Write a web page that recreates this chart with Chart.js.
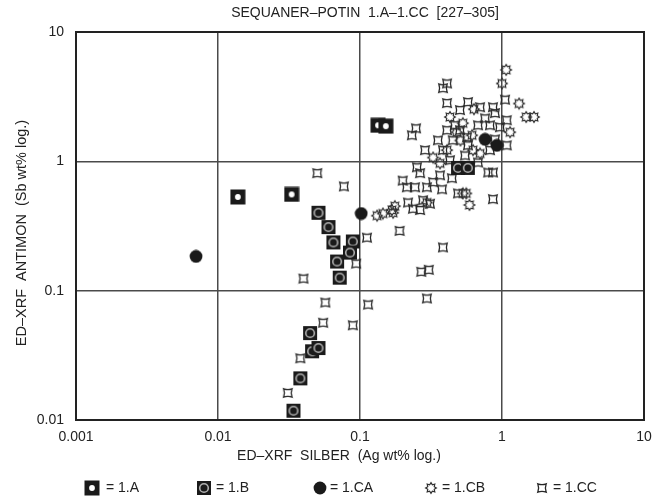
<!DOCTYPE html>
<html>
<head>
<meta charset="utf-8">
<script src="https://cdn.jsdelivr.net/npm/chart.js@4/dist/chart.umd.min.js"></script>
<style>
  html, body { margin: 0; padding: 0; background: #fff; }
  #wrap { width: 654px; height: 499px; }
</style>
</head>
<body>
<div id="wrap"><canvas id="c" width="654" height="499"></canvas></div>
<script>
// Groups and axis ticks
const categories = ['1.A', '1.B', '1.CA', '1.CB', '1.CC'];
const xTickValues = [0.001, 0.01, 0.1, 1, 10];
const xTickLabels = ['0.001', '0.01', '0.1', '1', '10'];
const yTickValues = [0.01, 0.1, 1, 10];
const yTickLabels = ['0.01', '0.1', '1', '10'];

// [Ag wt%, Sb wt%] per sample
const series1A = [[0.0138, 0.53], [0.033, 0.555], [0.134, 1.9], [0.152, 1.87]];
const series1B = [[0.051, 0.40], [0.060, 0.31], [0.065, 0.236], [0.089, 0.24], [0.085, 0.197],
  [0.069, 0.168], [0.072, 0.126], [0.0445, 0.047], [0.046, 0.034], [0.051, 0.036],
  [0.038, 0.021], [0.034, 0.0118], [0.49, 0.89], [0.575, 0.89]];
const series1CA = [[0.0070, 0.184], [0.102, 0.395], [0.76, 1.48], [0.92, 1.33]];
const series1CB = [[1.07, 5.1], [1.0, 4.0], [1.32, 2.8], [1.48, 2.2], [1.68, 2.2], [1.14, 1.68],
  [0.43, 2.2], [0.635, 2.53], [0.327, 1.07], [0.56, 0.565], [0.59, 0.46], [0.53, 0.565],
  [0.171, 0.40], [0.296, 0.48], [0.132, 0.38], [0.145, 0.395], [0.168, 0.42], [0.176, 0.45],
  [0.48, 1.68], [0.51, 1.45], [0.41, 1.22], [0.625, 1.22], [0.70, 1.15], [0.53, 1.97],
  [0.615, 1.59], [0.366, 0.965]];
const series1CC = [[0.050, 0.81], [0.077, 0.64], [0.112, 0.257], [0.094, 0.162], [0.040, 0.124],
  [0.057, 0.081], [0.055, 0.0565], [0.089, 0.054], [0.114, 0.078], [0.038, 0.030],
  [0.031, 0.0162], [0.296, 0.087], [0.384, 0.216], [0.27, 0.14], [0.305, 0.145], [0.19, 0.29],
  [0.384, 3.68], [0.41, 4.0], [0.232, 1.59], [0.248, 1.80], [0.41, 2.82], [0.506, 2.49],
  [0.576, 2.87], [0.70, 2.62], [0.864, 2.62], [0.893, 2.36], [1.05, 3.0], [1.08, 1.33],
  [1.08, 2.08], [0.41, 1.74], [0.506, 1.74], [0.45, 1.455], [0.567, 1.535], [0.384, 1.22],
  [0.823, 1.9], [0.968, 1.835], [0.80, 0.82], [0.864, 0.82], [0.864, 0.51], [0.49, 0.565],
  [0.252, 0.90], [0.265, 0.81], [0.20, 0.71], [0.214, 0.63], [0.244, 0.63], [0.296, 0.63],
  [0.327, 0.69], [0.378, 0.607], [0.218, 0.48], [0.236, 0.43], [0.265, 0.42], [0.278, 0.50],
  [0.311, 0.47], [0.354, 1.455], [0.467, 1.9], [0.678, 1.9], [0.76, 2.15], [0.576, 1.33],
  [0.43, 1.02], [0.678, 0.98], [0.893, 1.48], [0.287, 1.22], [0.366, 0.78], [0.444, 0.74],
  [0.823, 1.22], [0.549, 1.11]];

const seriesData = [series1A, series1B, series1CA, series1CB, series1CC];

// Marker glyphs drawn on small canvases, used as point styles
function makeMarker(size, draw) {
  const c = document.createElement('canvas');
  c.width = size; c.height = size;
  const g = c.getContext('2d');
  g.translate(size / 2, size / 2);
  draw(g);
  return c;
}
const INK = '#1a1a1a';
const markers = [
  makeMarker(16, g => {            // filled square, white dot
    g.fillStyle = INK; g.fillRect(-7.5, -7.5, 15, 15);
    g.fillStyle = '#fff'; g.beginPath(); g.arc(0, 0, 2.9, 0, Math.PI * 2); g.fill();
  }),
  makeMarker(16, g => {            // filled square, grey ring
    g.fillStyle = INK; g.fillRect(-7, -7, 14, 14);
    g.strokeStyle = '#b0b0b0'; g.lineWidth = 1.6;
    g.beginPath(); g.arc(0, 0, 4.3, 0, Math.PI * 2); g.stroke();
  }),
  makeMarker(14, g => {            // filled disc
    g.fillStyle = INK; g.beginPath(); g.arc(0, 0, 6.4, 0, Math.PI * 2); g.fill();
  }),
  makeMarker(14, g => {            // open eight-point star
    g.strokeStyle = '#303030'; g.lineWidth = 1.2;
    g.beginPath();
    for (let i = 0; i < 16; i++) {
      const r = i % 2 === 0 ? 5.4 : 3.5;
      const a = i * Math.PI / 8 - Math.PI / 2;
      const px = r * Math.cos(a), py = r * Math.sin(a);
      i === 0 ? g.moveTo(px, py) : g.lineTo(px, py);
    }
    g.closePath(); g.stroke();
  }),
  makeMarker(12, g => {            // concave square
    g.strokeStyle = '#262626'; g.lineWidth = 1.3;
    const s = 4.2, k = 2.6;
    g.beginPath();
    g.moveTo(-s, -s);
    g.quadraticCurveTo(0, -k, s, -s);
    g.quadraticCurveTo(k, 0, s, s);
    g.quadraticCurveTo(0, k, -s, s);
    g.quadraticCurveTo(-k, 0, -s, -s);
    g.closePath(); g.stroke();
  })
];

const FONT = "'Liberation Sans', Arial, Helvetica, sans-serif";
const TEXT = '#222';

const datasets = categories.map((name, i) => ({
  label: name,
  data: seriesData[i].map(p => ({ x: p[0], y: p[1] })),
  pointStyle: markers[i],
  pointRadius: 6,
  pointHoverRadius: 6
}));

// Frame, title, axis titles and the legend row
const decorations = {
  id: 'decorations',
  afterDraw(chart) {
    const { ctx, chartArea: a } = chart;
    ctx.save();
    ctx.strokeStyle = '#222';
    ctx.lineWidth = 2;
    ctx.strokeRect(a.left, a.top, a.right - a.left, a.bottom - a.top);

    ctx.fillStyle = TEXT;
    ctx.textBaseline = 'middle';
    ctx.textAlign = 'center';
    ctx.font = '14px ' + FONT;
    ctx.fillText('SEQUANER\u2013POTIN  1.A\u20131.CC  [227\u2013305]', 365, 13);
    ctx.fillText('ED\u2013XRF  SILBER  (Ag wt% log.)', 339, 456);

    ctx.save();
    ctx.translate(22, 233);
    ctx.rotate(-Math.PI / 2);
    ctx.font = '14.5px ' + FONT;
    ctx.fillText('ED\u2013XRF  ANTIMON  (Sb wt% log.)', 0, 0);
    ctx.restore();

    const symX = [92, 204, 320, 431, 542];
    const txtX = [106, 216, 330, 442, 553];
    const ly = 488;
    ctx.textAlign = 'left';
    ctx.font = '14px ' + FONT;
    categories.forEach((name, i) => {
      const m = markers[i];
      ctx.drawImage(m, symX[i] - m.width / 2, ly - m.height / 2);
      ctx.fillText('= ' + name, txtX[i], ly);
    });
    ctx.restore();
  }
};

new Chart(document.getElementById('c'), {
  type: 'scatter',
  data: { datasets },
  options: {
    responsive: false,
    animation: false,
    devicePixelRatio: 1,
    layout: { padding: { top: 32, right: 10, left: 0, bottom: 0 } },
    plugins: {
      legend: { display: false },
      title: { display: false },
      tooltip: { enabled: false }
    },
    scales: {
      x: {
        type: 'logarithmic',
        min: 0.001, max: 10,
        afterBuildTicks: s => { s.ticks = xTickValues.map(v => ({ value: v })); },
        afterFit: s => { s.height = 79; s.paddingLeft = 0; s.paddingRight = 0; },
        ticks: {
          autoSkip: false, maxRotation: 0, padding: 9,
          color: TEXT, font: { family: FONT, size: 14 },
          callback: (v, i) => xTickLabels[i]
        },
        grid: { color: '#4a4a4a', lineWidth: 1.5, drawTicks: false },
        border: { display: true, color: '#222', width: 2 }
      },
      y: {
        type: 'logarithmic',
        min: 0.01, max: 10,
        afterBuildTicks: s => { s.ticks = yTickValues.map(v => ({ value: v })); },
        afterFit: s => { s.width = 76; s.paddingTop = 0; s.paddingBottom = 0; },
        ticks: {
          autoSkip: false, padding: 12,
          color: TEXT, font: { family: FONT, size: 14 },
          callback: (v, i) => yTickLabels[i]
        },
        grid: { color: '#4a4a4a', lineWidth: 1.5, drawTicks: false },
        border: { display: true, color: '#222', width: 2 }
      }
    }
  },
  plugins: [decorations]
});
</script>
</body>
</html>
